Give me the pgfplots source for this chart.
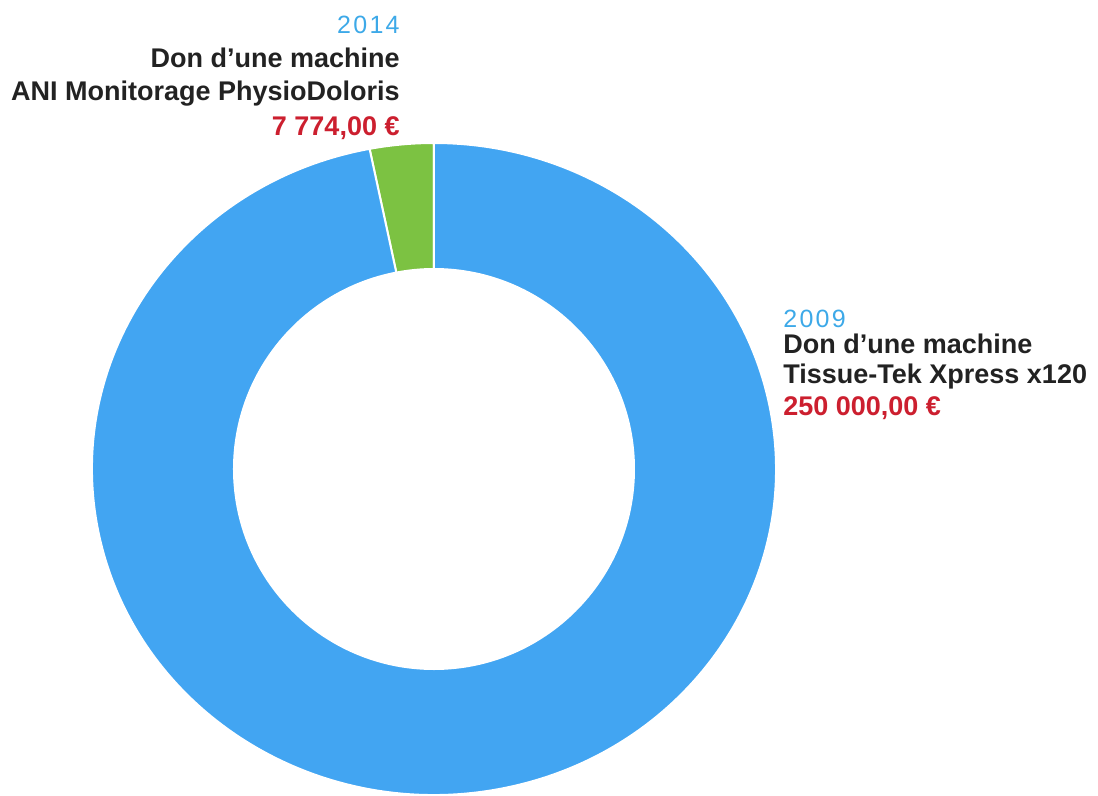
\documentclass[border=0pt]{standalone}
\usepackage{pgfplots}
\pgfplotsset{compat=1.18}
\usepackage{pgfplotstable}
\usepackage{fontspec}
\setmainfont{Liberation Sans}

\definecolor{bluec}{HTML}{42A5F2}
\definecolor{greenc}{HTML}{7CC242}
\definecolor{redc}{HTML}{CC1F2F}
\definecolor{textc}{HTML}{222222}
\definecolor{yearc}{HTML}{3DA9E8}

\pgfplotstableread{
label value
2009 250000
2014 7774
}\dons

\begin{document}
\begin{tikzpicture}
\pgfplotstablegetelem{0}{value}\of\dons \let\vblue\pgfplotsretval
\pgfplotstablegetelem{1}{value}\of\dons \let\vgreen\pgfplotsretval
\pgfkeys{/pgf/fpu=true,/pgf/fpu/output format=fixed}
\pgfmathsetmacro\gdeg{360*\vgreen/(\vblue+\vgreen)}
\pgfkeys{/pgf/fpu=false}
\pgfmathsetmacro\ga{90}
\pgfmathsetmacro\gb{90+\gdeg}
\pgfmathsetmacro\bb{450}
\def\yr{\fontsize{12.5bp}{15bp}\selectfont\addfontfeature{LetterSpace=9}\color{yearc}}
\def\bt{\fontsize{13.5bp}{16bp}\selectfont\bfseries\color{textc}}
\def\rt{\fontsize{13.5bp}{16bp}\selectfont\bfseries\color{redc}}
\begin{axis}[
    x=0.5bp, y=0.5bp,
    xmin=0, xmax=1098, ymin=0, ymax=796,
    hide axis, clip=false]
% green slice (2014)
\fill[greenc, draw=white, line width=1bp]
  ([shift={(\ga:171bp and 163bp)}]axis cs:434,327)
  arc[start angle=\ga, end angle=\gb, x radius=171bp, y radius=163bp]
  -- ([shift={(\gb:100bp)}]axis cs:434,327)
  arc[start angle=\gb, end angle=\ga, radius=100bp] -- cycle;
% blue slice (2009)
\fill[bluec, draw=white, line width=1bp]
  ([shift={(\gb:171bp and 163bp)}]axis cs:434,327)
  arc[start angle=\gb, end angle=\bb, x radius=171bp, y radius=163bp]
  -- ([shift={(\bb:100bp)}]axis cs:434,327)
  arc[start angle=\bb, end angle=\gb, radius=100bp] -- cycle;
% labels
\node[anchor=base east, inner sep=0pt] at (axis cs:400,763) {\yr 2014};
\node[anchor=base east, inner sep=0pt] at (axis cs:400,729) {\bt Don d’une machine};
\node[anchor=base east, inner sep=0pt] at (axis cs:400,696) {\bt ANI Monitorage PhysioDoloris};
\node[anchor=base east, inner sep=0pt] at (axis cs:400,661) {\rt 7 774,00 €};
\node[anchor=base west, inner sep=0pt] at (axis cs:783,469) {\yr 2009};
\node[anchor=base west, inner sep=0pt] at (axis cs:783,443) {\bt Don d’une machine};
\node[anchor=base west, inner sep=0pt] at (axis cs:783,413) {\bt Tissue-Tek Xpress x120};
\node[anchor=base west, inner sep=0pt] at (axis cs:783,381) {\rt 250 000,00 €};
\end{axis}
\pgfresetboundingbox
\path (0,0) rectangle (549bp,398bp);
\end{tikzpicture}
\end{document}
